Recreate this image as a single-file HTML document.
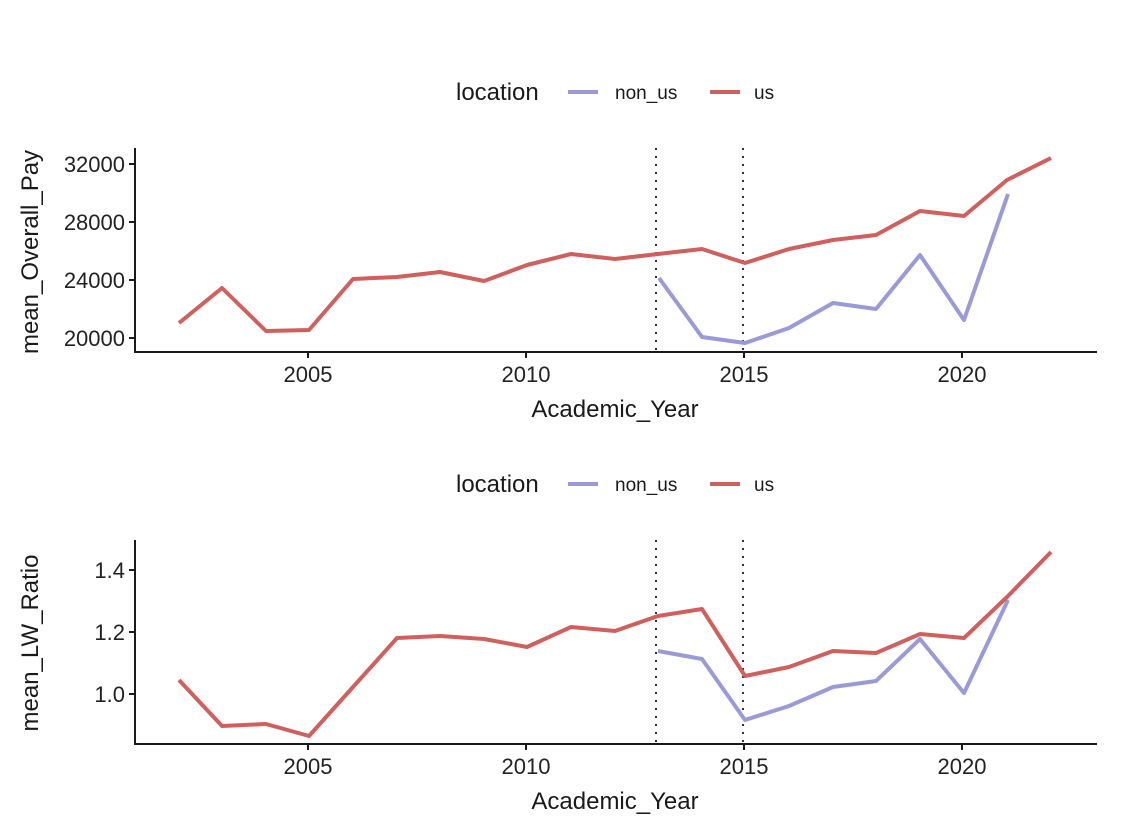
<!DOCTYPE html>
<html><head><meta charset="utf-8"><style>
body{margin:0;background:#fff;}
svg{display:block;font-family:"Liberation Sans",sans-serif;}
</style></head><body>
<svg width="1128" height="825" viewBox="0 0 1128 825">
<rect width="1128" height="825" fill="#fff"/>
<g font-size="24" fill="#1a1a1a">
<text x="456" y="100">location</text>
<line x1="568" y1="92" x2="598" y2="92" stroke="#9a9ad8" stroke-width="4"/>
<text x="615" y="99" font-size="19">non_us</text>
<line x1="710" y1="92" x2="740" y2="92" stroke="#d0605e" stroke-width="4"/>
<text x="754" y="99" font-size="19">us</text>
</g>
<g stroke="#1a1a1a" stroke-width="2" fill="none">
<polyline points="135,148 135,352 1097,352"/>
<line x1="129" y1="164" x2="135" y2="164"/><line x1="129" y1="222" x2="135" y2="222"/>
<line x1="129" y1="280" x2="135" y2="280"/><line x1="129" y1="338" x2="135" y2="338"/>
<line x1="308" y1="352" x2="308" y2="358"/><line x1="526" y1="352" x2="526" y2="358"/>
<line x1="744" y1="352" x2="744" y2="358"/><line x1="962" y1="352" x2="962" y2="358"/>
</g>
<g stroke="#333" stroke-width="2" stroke-dasharray="2,6">
<line x1="656" y1="148" x2="656" y2="352"/><line x1="743" y1="148" x2="743" y2="352"/>
</g>
<g font-size="22" fill="#222" text-anchor="end">
<text x="125" y="172">32000</text><text x="125" y="230">28000</text>
<text x="125" y="288">24000</text><text x="125" y="346">20000</text>
</g>
<g font-size="22" fill="#222" text-anchor="middle">
<text x="308" y="382">2005</text><text x="526" y="382">2010</text>
<text x="744" y="382">2015</text><text x="962" y="382">2020</text>
</g>
<text x="615" y="417" font-size="24" fill="#1a1a1a" text-anchor="middle">Academic_Year</text>
<text transform="translate(38,252) rotate(-90)" font-size="24" fill="#1a1a1a" text-anchor="middle">mean_Overall_Pay</text>
<polyline fill="none" stroke="#d0605e" stroke-width="4" stroke-linejoin="round" points="179,323 222,288 266,331 309,330 353,279 397,277 440,272 484,281 527,265 571,254 615,259 658,254 702,249 745,263 789,249 833,240 876,235 920,211 964,216 1007,180 1051,158"/>
<polyline fill="none" stroke="#9a9ad8" stroke-width="4" stroke-linejoin="round" points="659,278 702,337 745,343 789,328 833,303 876,309 920,255 964,320 1008,194"/>
<g font-size="24" fill="#1a1a1a">
<text x="456" y="492">location</text>
<line x1="568" y1="484" x2="598" y2="484" stroke="#9a9ad8" stroke-width="4"/>
<text x="615" y="491" font-size="19">non_us</text>
<line x1="710" y1="484" x2="740" y2="484" stroke="#d0605e" stroke-width="4"/>
<text x="754" y="491" font-size="19">us</text>
</g>
<g stroke="#1a1a1a" stroke-width="2" fill="none">
<polyline points="135,540 135,744 1097,744"/>
<line x1="129" y1="570" x2="135" y2="570"/><line x1="129" y1="632" x2="135" y2="632"/>
<line x1="129" y1="694" x2="135" y2="694"/>
<line x1="308" y1="744" x2="308" y2="750"/><line x1="526" y1="744" x2="526" y2="750"/>
<line x1="744" y1="744" x2="744" y2="750"/><line x1="962" y1="744" x2="962" y2="750"/>
</g>
<g stroke="#333" stroke-width="2" stroke-dasharray="2,6">
<line x1="656" y1="540" x2="656" y2="744"/><line x1="743" y1="540" x2="743" y2="744"/>
</g>
<g font-size="22" fill="#222" text-anchor="end">
<text x="125" y="578">1.4</text><text x="125" y="640">1.2</text><text x="125" y="702">1.0</text>
</g>
<g font-size="22" fill="#222" text-anchor="middle">
<text x="308" y="774">2005</text><text x="526" y="774">2010</text>
<text x="744" y="774">2015</text><text x="962" y="774">2020</text>
</g>
<text x="615" y="809" font-size="24" fill="#1a1a1a" text-anchor="middle">Academic_Year</text>
<text transform="translate(38,643) rotate(-90)" font-size="24" fill="#1a1a1a" text-anchor="middle">mean_LW_Ratio</text>
<polyline fill="none" stroke="#9a9ad8" stroke-width="4" stroke-linejoin="round" points="658,651 702,659 745,720 789,706 833,687 876,681 920,639 964,693 1008,600"/>
<polyline fill="none" stroke="#d0605e" stroke-width="4" stroke-linejoin="round" points="179,680 222,726 266,724 309,736 353,687 397,638 440,636 484,639 527,647 571,627 615,631 658,616 702,609 745,676 789,667 833,651 876,653 920,634 964,638 1007,597 1051,552"/>
</svg>
</body></html>
